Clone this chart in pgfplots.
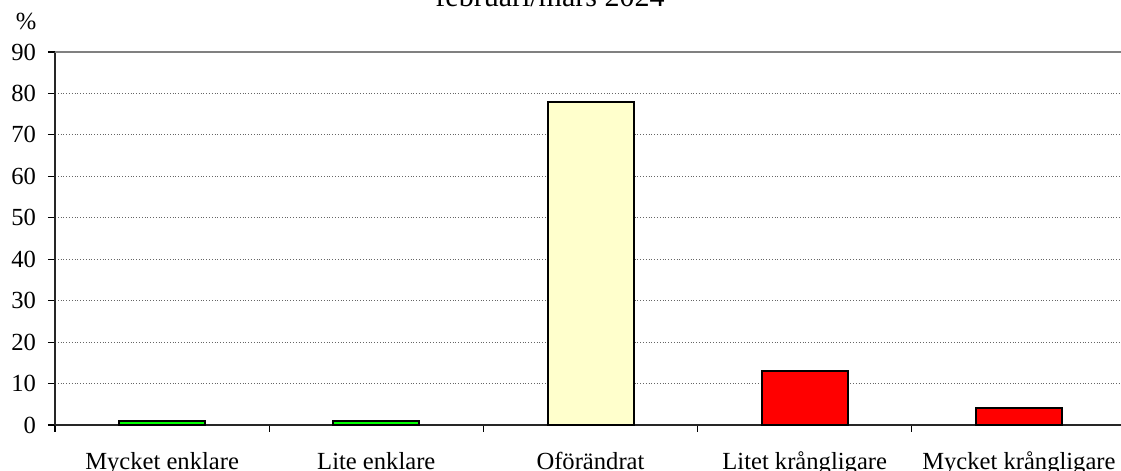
\documentclass[border=0pt]{standalone}
\usepackage{fontspec}
\setmainfont{Liberation Serif}
\usepackage{pgfplots}
\pgfplotsset{compat=1.18}
\definecolor{barGreen}{RGB}{0,255,0}
\definecolor{barYellow}{RGB}{255,255,204}
\definecolor{barRed}{RGB}{255,0,0}
\begin{document}
\begin{tikzpicture}
\begin{axis}[
  name=ax,
  scale only axis,
  width=535.5pt, height=186.5pt,
  xmin=-0.5, xmax=4.5,
  ymin=0, ymax=90,
  ytick={0,10,...,90},
  xtick={0,1,2,3,4},
  xticklabels={Mycket enklare, Lite enklare, Oförändrat, Litet krångligare, Mycket krångligare},
  minor xtick={-0.5,0.5,1.5,2.5,3.5},
  major x tick style={draw=none},
  minor tick length=3.5pt,
  major tick length=3.5pt,
  tick align=outside,
  axis x line*=bottom,
  axis y line*=left,
  axis line style={line width=0.9pt, black!85},
  tick style={line width=0.6pt, black},
  ymajorgrids,
  major grid style={densely dotted, line width=0.5pt, black!60},
  /pgf/number format/assume math mode=true,
  tick label style={font=\fontsize{12.3}{14}\selectfont},
  xticklabel style={yshift=-6.5pt},
  yticklabel style={xshift=-2.5pt},
  ybar, bar width=43pt, bar shift=0pt,
  clip=false,
]
\addplot[fill=barGreen, draw=black, line width=1pt] coordinates {(0,1) (1,1)};
\addplot[fill=barYellow, draw=black, line width=1pt] coordinates {(2,78)};
\addplot[fill=barRed, draw=black, line width=1pt] coordinates {(3,13) (4,4)};
\draw[black!50, line width=1pt] (rel axis cs:0,1) -- (rel axis cs:1,1);
\end{axis}
\node[anchor=base, font=\fontsize{15}{18}\selectfont, inner sep=0pt] at ([xshift=247.5pt, yshift=22.8pt]ax.north west) {februari/mars 2024};
\node[font=\fontsize{12.3}{14}\selectfont, inner sep=0pt] at ([xshift=-14.5pt, yshift=15.5pt]ax.north west) {\%};
\pgfresetboundingbox
\useasboundingbox (-27.5pt,-23pt) rectangle (533pt,212.5pt);
\end{tikzpicture}
\end{document}
